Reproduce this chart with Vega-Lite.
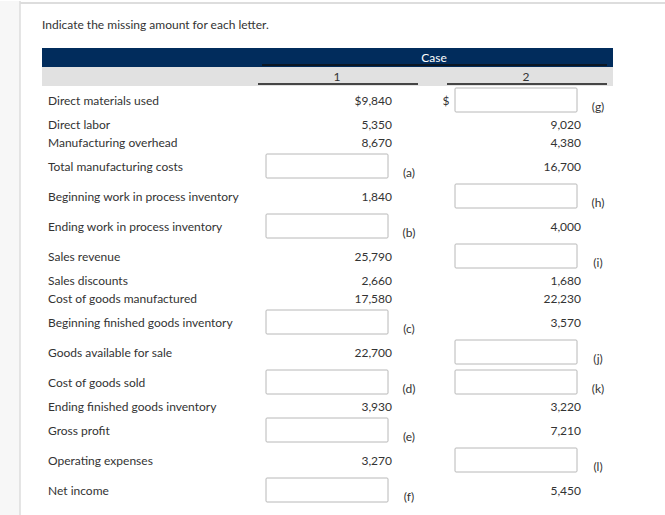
{
  "$schema": "https://vega.github.io/schema/vega-lite/v6.json",
  "width": 665,
  "height": 515,
  "padding": 0,
  "autosize": {"type": "fit", "contains": "padding"},
  "background": "white",
  "view": {"stroke": null},
  "config": {"text": {"font": "Lato", "fontSize": 12, "color": "#333333"}},
  "datasets": {
    "table": [
      {"row": 0, "item": "Direct materials used", "case": 1, "amount": 9840, "dollar": true},
      {"row": 0, "item": "Direct materials used", "case": 2, "letter": "(g)", "dollar": true},
      {"row": 1, "item": "Direct labor", "case": 1, "amount": 5350},
      {"row": 1, "item": "Direct labor", "case": 2, "amount": 9020},
      {"row": 2, "item": "Manufacturing overhead", "case": 1, "amount": 8670},
      {"row": 2, "item": "Manufacturing overhead", "case": 2, "amount": 4380},
      {"row": 3, "item": "Total manufacturing costs", "case": 1, "letter": "(a)"},
      {"row": 3, "item": "Total manufacturing costs", "case": 2, "amount": 16700},
      {"row": 4, "item": "Beginning work in process inventory", "case": 1, "amount": 1840},
      {"row": 4, "item": "Beginning work in process inventory", "case": 2, "letter": "(h)"},
      {"row": 5, "item": "Ending work in process inventory", "case": 1, "letter": "(b)"},
      {"row": 5, "item": "Ending work in process inventory", "case": 2, "amount": 4000},
      {"row": 6, "item": "Sales revenue", "case": 1, "amount": 25790},
      {"row": 6, "item": "Sales revenue", "case": 2, "letter": "(i)"},
      {"row": 7, "item": "Sales discounts", "case": 1, "amount": 2660},
      {"row": 7, "item": "Sales discounts", "case": 2, "amount": 1680},
      {"row": 8, "item": "Cost of goods manufactured", "case": 1, "amount": 17580},
      {"row": 8, "item": "Cost of goods manufactured", "case": 2, "amount": 22230},
      {"row": 9, "item": "Beginning finished goods inventory", "case": 1, "letter": "(c)"},
      {"row": 9, "item": "Beginning finished goods inventory", "case": 2, "amount": 3570},
      {"row": 10, "item": "Goods available for sale", "case": 1, "amount": 22700},
      {"row": 10, "item": "Goods available for sale", "case": 2, "letter": "(j)"},
      {"row": 11, "item": "Cost of goods sold", "case": 1, "letter": "(d)"},
      {"row": 11, "item": "Cost of goods sold", "case": 2, "letter": "(k)"},
      {"row": 12, "item": "Ending finished goods inventory", "case": 1, "amount": 3930},
      {"row": 12, "item": "Ending finished goods inventory", "case": 2, "amount": 3220},
      {"row": 13, "item": "Gross profit", "case": 1, "letter": "(e)"},
      {"row": 13, "item": "Gross profit", "case": 2, "amount": 7210},
      {"row": 14, "item": "Operating expenses", "case": 1, "amount": 3270},
      {"row": 14, "item": "Operating expenses", "case": 2, "letter": "(l)"},
      {"row": 15, "item": "Net income", "case": 1, "letter": "(f)"},
      {"row": 15, "item": "Net income", "case": 2, "amount": 5450}
    ],
    "cases": [{"case": 1, "name": "1"}, {"case": 2, "name": "2"}],
    "one": [{}]
  },
  "data": {"name": "table"},
  "layer": [
    {
      "data": {"name": "one"},
      "mark": {"type": "rect", "fill": "#f7f7f7"},
      "encoding": {
        "x": {"datum": -3, "type": "quantitative", "axis": null, "scale": {"type": "linear", "domain": [-3, -2, -1, 0, 1, 2, 3, 4], "range": [0, 20, 42, 48, 392, 581, 613, 665], "nice": false, "zero": false}},
        "x2": {"datum": -2},
        "y": {"datum": -5, "type": "quantitative", "axis": null, "scale": {"type": "linear", "domain": [-5, -4, -3, -2.5, -1.5, -0.5, 0, 1, 2, 3, 4, 5, 6, 7, 8, 9, 10, 11, 12, 13, 14, 15, 16], "range": [0, 2, 24, 47, 66, 85, 100, 124, 142, 166, 196, 226, 256, 280, 298, 322, 352, 382, 406, 430, 460, 490, 515], "nice": false, "zero": false}},
        "y2": {"datum": 16}
      }
    },
    {
      "data": {"name": "one"},
      "mark": {"type": "rule", "stroke": "#dddddd", "strokeWidth": 1.5},
      "encoding": {
        "x": {"datum": -2, "type": "quantitative"},
        "y": {"datum": -5, "type": "quantitative"},
        "y2": {"datum": 16}
      }
    },
    {
      "data": {"name": "one"},
      "mark": {"type": "rule", "stroke": "#dddddd", "strokeWidth": 2},
      "encoding": {
        "x": {"datum": -2, "type": "quantitative"},
        "x2": {"datum": 4},
        "y": {"datum": -4, "type": "quantitative"}
      }
    },
    {
      "data": {"name": "one"},
      "mark": {"type": "text", "align": "left", "baseline": "middle", "fontSize": 12},
      "encoding": {
        "x": {"datum": -1, "type": "quantitative"},
        "y": {"datum": -3, "type": "quantitative"},
        "text": {"value": "Indicate the missing amount for each letter."}
      }
    },
    {
      "data": {"name": "one"},
      "mark": {"type": "rect", "fill": "#012c5c"},
      "encoding": {
        "x": {"datum": -1, "type": "quantitative"},
        "x2": {"datum": 3},
        "y": {"datum": -2.5, "type": "quantitative"},
        "y2": {"datum": -1.5}
      }
    },
    {
      "data": {"name": "one"},
      "mark": {"type": "rect", "fill": "#e1e1e1"},
      "encoding": {
        "x": {"datum": -1, "type": "quantitative"},
        "x2": {"datum": 3},
        "y": {"datum": -1.5, "type": "quantitative"},
        "y2": {"datum": -0.5}
      }
    },
    {
      "data": {"name": "one"},
      "mark": {"type": "rule", "stroke": "#111111", "strokeWidth": 1.5, "xOffset": -130, "x2Offset": 26},
      "encoding": {
        "x": {"datum": 1, "type": "quantitative"},
        "x2": {"datum": 2},
        "y": {"datum": -1.6, "type": "quantitative"}
      }
    },
    {
      "data": {"name": "one"},
      "mark": {"type": "text", "align": "center", "baseline": "middle", "color": "white", "fontSize": 12, "xOffset": 42},
      "encoding": {
        "x": {"datum": 1, "type": "quantitative"},
        "y": {"datum": -2, "type": "quantitative"},
        "text": {"value": "Case"}
      }
    },
    {
      "data": {"name": "cases"},
      "mark": {"type": "rule", "stroke": "#111111", "strokeWidth": 1.5, "xOffset": -134, "x2Offset": 26},
      "encoding": {
        "x": {"field": "case", "type": "quantitative"},
        "x2": {"field": "case"},
        "y": {"datum": -0.6, "type": "quantitative"}
      }
    },
    {
      "data": {"name": "cases"},
      "mark": {"type": "text", "align": "center", "baseline": "middle", "xOffset": -55, "fontSize": 12},
      "encoding": {
        "x": {"field": "case", "type": "quantitative"},
        "y": {"datum": -1, "type": "quantitative"},
        "text": {"field": "name"}
      }
    },
    {
      "transform": [{"filter": "datum.case === 1"}],
      "mark": {"type": "text", "align": "left", "baseline": "middle"},
      "encoding": {
        "x": {"datum": 0, "type": "quantitative"},
        "y": {"field": "row", "type": "quantitative"},
        "text": {"field": "item"}
      }
    },
    {
      "transform": [
        {"filter": "isValid(datum.amount)"},
        {"calculate": "(datum.dollar ? '$' : '') + format(datum.amount, ',')", "as": "shown"}
      ],
      "mark": {"type": "text", "align": "right", "baseline": "middle"},
      "encoding": {
        "x": {"field": "case", "type": "quantitative"},
        "y": {"field": "row", "type": "quantitative"},
        "text": {"field": "shown"}
      }
    },
    {
      "transform": [{"filter": "isValid(datum.letter)"}],
      "mark": {"type": "rect", "fill": "white", "stroke": "#b8b8b8", "strokeWidth": 1, "cornerRadius": 1, "xOffset": -126, "x2Offset": -4, "yOffset": -13, "y2Offset": 11},
      "encoding": {
        "x": {"field": "case", "type": "quantitative"},
        "x2": {"field": "case"},
        "y": {"field": "row", "type": "quantitative"},
        "y2": {"field": "row"}
      }
    },
    {
      "transform": [{"filter": "isValid(datum.letter)"}],
      "mark": {"type": "text", "align": "center", "baseline": "middle", "xOffset": 17, "yOffset": 6},
      "encoding": {
        "x": {"field": "case", "type": "quantitative"},
        "y": {"field": "row", "type": "quantitative"},
        "text": {"field": "letter"}
      }
    },
    {
      "transform": [{"filter": "datum.dollar && isValid(datum.letter)"}],
      "mark": {"type": "text", "align": "center", "baseline": "middle", "xOffset": -135},
      "encoding": {
        "x": {"field": "case", "type": "quantitative"},
        "y": {"field": "row", "type": "quantitative"},
        "text": {"value": "$"}
      }
    }
  ]
}
